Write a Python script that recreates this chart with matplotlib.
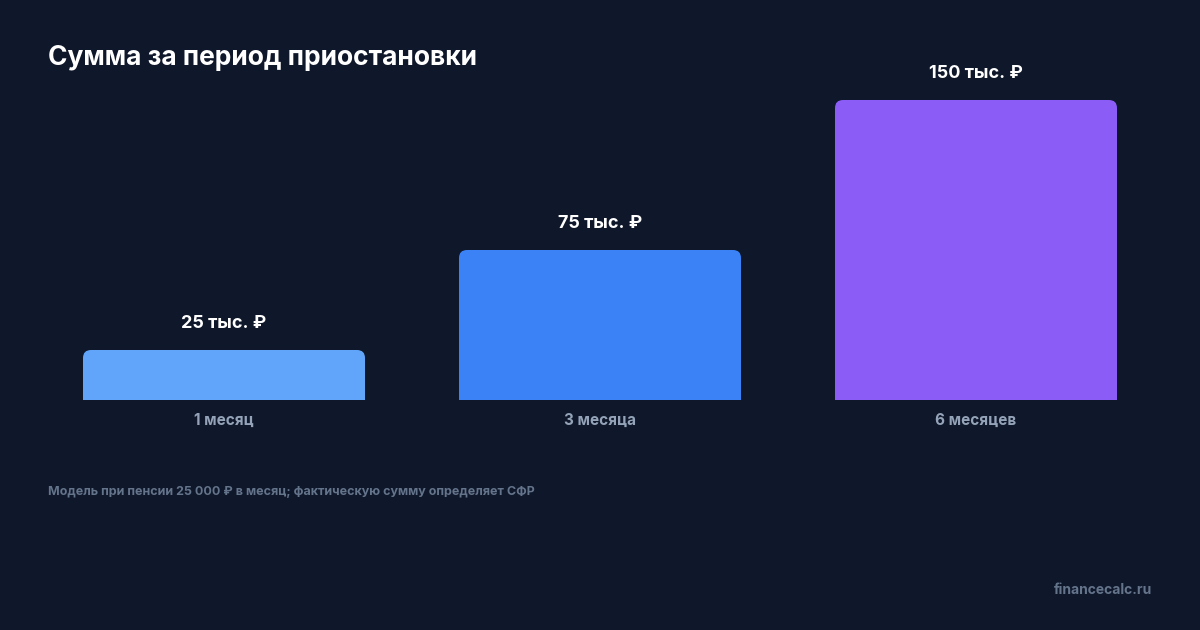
import matplotlib
matplotlib.use("Agg")
import matplotlib.pyplot as plt
from matplotlib.patches import FancyBboxPatch, Rectangle

categories = ["1 месяц", "3 месяца", "6 месяцев"]
values = [25, 75, 150]
value_labels = ["25 тыс. ₽", "75 тыс. ₽", "150 тыс. ₽"]
colors = ["#60a5fa", "#3b82f6", "#8b5cf6"]

BG = "#0f172a"
plt.rcParams['font.family'] = ['Inter', 'DejaVu Sans']
fig = plt.figure(figsize=(12, 6.3), dpi=100, facecolor=BG)
ax = fig.add_axes([0.03, 230/630, 0.94, 300/630])
ax.set_facecolor(BG)
ax.set_xlim(-0.5, 2.5)
ax.set_ylim(0, 150)
ax.axis("off")

w = 0.75
for i, (v, c, lab) in enumerate(zip(values, colors, value_labels)):
    p = FancyBboxPatch((i - w/2, 0), w, v, boxstyle="round,pad=0,rounding_size=0.0213",
                       mutation_aspect=188, fc=c, ec="none", clip_on=False)
    ax.add_patch(p)
    ax.add_patch(Rectangle((i - w/2, 0), w, min(v, 10), fc=c, ec="none", clip_on=False))
    ax.text(i, v + 9, lab, ha="center", va="bottom", color="white", fontsize=13, fontweight="bold", clip_on=False)
    ax.text(i, -10, categories[i], ha="center", va="center", color="#94a3b8", fontsize=11, fontweight="bold", clip_on=False)

fig.text(48/1200, 1 - 58/630, "Сумма за период приостановки", color="white", fontsize=19,
         fontweight="bold", va="center", ha="left")
fig.text(48/1200, 1 - 492/630, "Модель при пенсии 25 000 ₽ в месяц; фактическую сумму определяет СФР",
         color="#64748b", fontsize=9, fontweight="bold", va="center", ha="left")
fig.text(1152/1200, 1 - 590/630, "financecalc.ru", color="#64748b", fontsize=10,
         fontweight="bold", va="center", ha="right")

fig.savefig("out.png", dpi=100, facecolor=BG)
